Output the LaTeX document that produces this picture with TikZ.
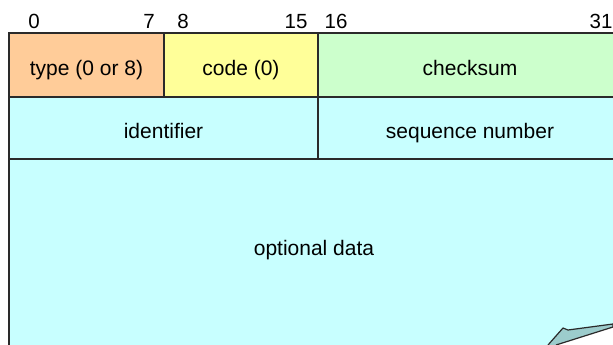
\documentclass[tikz,border=0pt]{standalone}
\usepackage{fontspec}
\setmainfont{Liberation Sans}
\definecolor{typecol}{HTML}{FFCC99}
\definecolor{codecol}{HTML}{FFFF99}
\definecolor{sumcol}{HTML}{CCFFCC}
\definecolor{datacol}{HTML}{C8FFFF}
\definecolor{curlcol}{HTML}{9CCCCC}
\definecolor{linecol}{HTML}{2A2A2A}
\begin{document}
\begin{tikzpicture}[x=1pt, y=-1pt,
    field/.style={draw=linecol, line width=1.4pt, inner sep=0pt, text height=20pt, text depth=0pt, font=\fontsize{21}{25}\selectfont},
    bitno/.style={anchor=base, inner sep=0pt, font=\fontsize{20.5}{24}\selectfont},
    labeltext/.style={inner sep=0pt, text height=20pt, text depth=0pt, font=\fontsize{21}{25}\selectfont}]
    \useasboundingbox (0,0) rectangle (613,345);
    \clip (0,0) rectangle (613,345);

    % BIT NUMBERS:
    \node[bitno] (b0) at (34,29) {0};
    \node[bitno] (b7) at (149,29) {7};
    \node[bitno] (b8) at (183,29) {8};
    \node[bitno] (b15) at (296,29) {15};
    \node[bitno] (b16) at (336,29) {16};
    \node[bitno] (b31) at (601,29) {31};

    % FIELDS
    \node[field, fill=typecol, minimum width=155pt, minimum height=64pt] (type) at (86.5,65) {type (0 or 8)};
    \node[field, fill=codecol, minimum width=154pt, minimum height=64pt] (code) at (241,65) {code (0)};
    \node[field, fill=sumcol, minimum width=304pt, minimum height=64pt] (checksum) at (470,65) {checksum};
    \node[field, fill=datacol, minimum width=309pt, minimum height=62pt] (ident) at (163.5,128) {identifier};
    \node[field, fill=datacol, minimum width=304pt, minimum height=62pt] (seqno) at (470,128) {sequence number};
    \filldraw[fill=datacol, draw=linecol, line width=1.4pt] (9,400) -- (9,159) -- (622,159) -- (622,400);
    \node[labeltext] (data) at (314,245) {optional data};

    % CURLED CORNER
    \fill[white] (556,345) -- (613,327) -- (613,345) -- cycle;
    \filldraw[fill=curlcol, draw=linecol, line width=1.2pt, line join=round] (548,345) -- (563,328) -- (568,330) -- (613,324) -- (613,327) -- (556,345);
\end{tikzpicture}
\end{document}
